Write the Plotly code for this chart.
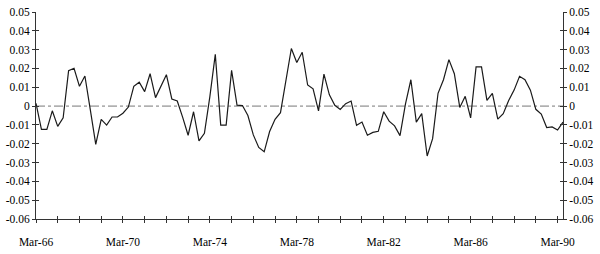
import plotly.graph_objects as go

# Quarterly series, Mar-66 .. Jun-90
values = [
    0.0015, -0.0124, -0.0124, -0.0025, -0.0108, -0.0062, 0.0188, 0.0201, 0.0105, 0.0160,
    -0.0020, -0.0203, -0.0071, -0.0101, -0.0058, -0.0058, -0.0038, -0.0005, 0.0105, 0.0127,
    0.0077, 0.0172, 0.0045, 0.0110, 0.0167, 0.0038, 0.0027, -0.0060, -0.0155, -0.0030,
    -0.0185, -0.0145, 0.0050, 0.0275, -0.0101, -0.0101, 0.0190, 0.0005, 0.0003, -0.0050,
    -0.0153, -0.0220, -0.0243, -0.0135, -0.0070, -0.0035, 0.0130, 0.0306, 0.0232, 0.0286,
    0.0112, 0.0092, -0.0025, 0.0170, 0.0060, 0.0004, -0.0018, 0.0013, 0.0027, -0.0102,
    -0.0085, -0.0155, -0.0140, -0.0134, -0.0030, -0.0080, -0.0105, -0.0157, 0.0010, 0.0140,
    -0.0085, -0.0040, -0.0265, -0.0173, 0.0068, 0.0140, 0.0247, 0.0172, -0.0007, 0.0052,
    -0.0063, 0.0208, 0.0208, 0.0030, 0.0068, -0.0069, -0.0040, 0.0030, 0.0085, 0.0158,
    0.0140, 0.0085, -0.0017, -0.0042, -0.0114, -0.0111, -0.0127, -0.0085,
]
quarter_index = list(range(len(values)))

# x-axis: yearly ticks, labels every four years
year_tick_positions = list(range(0, 97, 4))
label_years = {0: "Mar-66", 16: "Mar-70", 32: "Mar-74", 48: "Mar-78",
               64: "Mar-82", 80: "Mar-86", 96: "Mar-90"}
x_tick_text = [label_years.get(p, "") for p in year_tick_positions]

# y-axis ticks
y_tick_vals = [0.05, 0.04, 0.03, 0.02, 0.01, 0.0, -0.01, -0.02, -0.03, -0.04, -0.05, -0.06]
y_tick_text = ["0.05", "0.04", "0.03", "0.02", "0.01", "0", "-0.01", "-0.02",
               "-0.03", "-0.04", "-0.05", "-0.06"]

AX = "#333333"
FONT = "Liberation Serif"
YR = [-0.06, 0.05]
XR = [0, 97]

fig = go.Figure()
# invisible helper traces so the overlay tick axes are drawn
fig.add_trace(go.Scatter(x=quarter_index, y=values, mode="lines", xaxis="x2", yaxis="y3",
                         line=dict(color="rgba(0,0,0,0)", width=0), hoverinfo="skip"))
fig.add_trace(go.Scatter(x=quarter_index, y=values, mode="lines", xaxis="x", yaxis="y4",
                         line=dict(color="rgba(0,0,0,0)", width=0), hoverinfo="skip"))
fig.add_trace(go.Scatter(x=quarter_index, y=values, mode="lines", xaxis="x", yaxis="y2",
                         line=dict(color="rgba(0,0,0,0)", width=0), hoverinfo="skip"))
fig.add_trace(go.Scatter(x=quarter_index, y=values, mode="lines",
                         line=dict(color="#1a1a1a", width=1.2), hoverinfo="skip"))

fig.add_shape(type="line", xref="paper", yref="y", x0=0, x1=1, y0=0, y1=0,
              line=dict(color="#777777", width=1, dash="dashdot"), layer="below")

fig.update_layout(
    width=600, height=254,
    margin=dict(l=31, r=32, t=6, b=25),
    paper_bgcolor="white", plot_bgcolor="white",
    showlegend=False,
    font=dict(family=FONT, size=12, color="#111111"),
    xaxis=dict(range=XR, tickmode="array", tickvals=year_tick_positions, ticktext=x_tick_text,
               showgrid=False, zeroline=False, showline=True, linecolor=AX, linewidth=1,
               ticks="outside", ticklen=3, tickcolor=AX, tickwidth=1,
               tickfont=dict(family=FONT, size=11.5, color="#000000"), ticklabelstandoff=9),
    xaxis2=dict(range=XR, overlaying="x", anchor="y", side="bottom", tickmode="array",
                tickvals=year_tick_positions, showticklabels=False, showgrid=False,
                zeroline=False, showline=False, ticks="inside", ticklen=3,
                tickcolor=AX, tickwidth=1),
    yaxis=dict(range=YR, tickmode="array", tickvals=y_tick_vals, ticktext=y_tick_text,
               showgrid=False, zeroline=False, showline=True, linecolor=AX, linewidth=1,
               ticks="outside", ticklen=3, tickcolor=AX, tickwidth=1,
               tickfont=dict(family=FONT, size=11.5, color="#000000")),
    yaxis2=dict(range=YR, overlaying="y", side="right", anchor="x", tickmode="array",
                tickvals=y_tick_vals, ticktext=y_tick_text, showgrid=False, zeroline=False,
                showline=True, linecolor=AX, linewidth=1, ticks="outside", ticklen=3,
                tickcolor=AX, tickwidth=1,
                tickfont=dict(family=FONT, size=11.5, color="#000000")),
    yaxis3=dict(range=YR, overlaying="y", side="left", anchor="x2", tickmode="array",
                tickvals=y_tick_vals, showticklabels=False, showgrid=False, zeroline=False,
                showline=False, ticks="inside", ticklen=3, tickcolor=AX, tickwidth=1),
    yaxis4=dict(range=YR, overlaying="y", side="right", anchor="x", tickmode="array",
                tickvals=y_tick_vals, showticklabels=False, showgrid=False, zeroline=False,
                showline=False, ticks="inside", ticklen=3, tickcolor=AX, tickwidth=1),
)

fig.write_html("out.html")
